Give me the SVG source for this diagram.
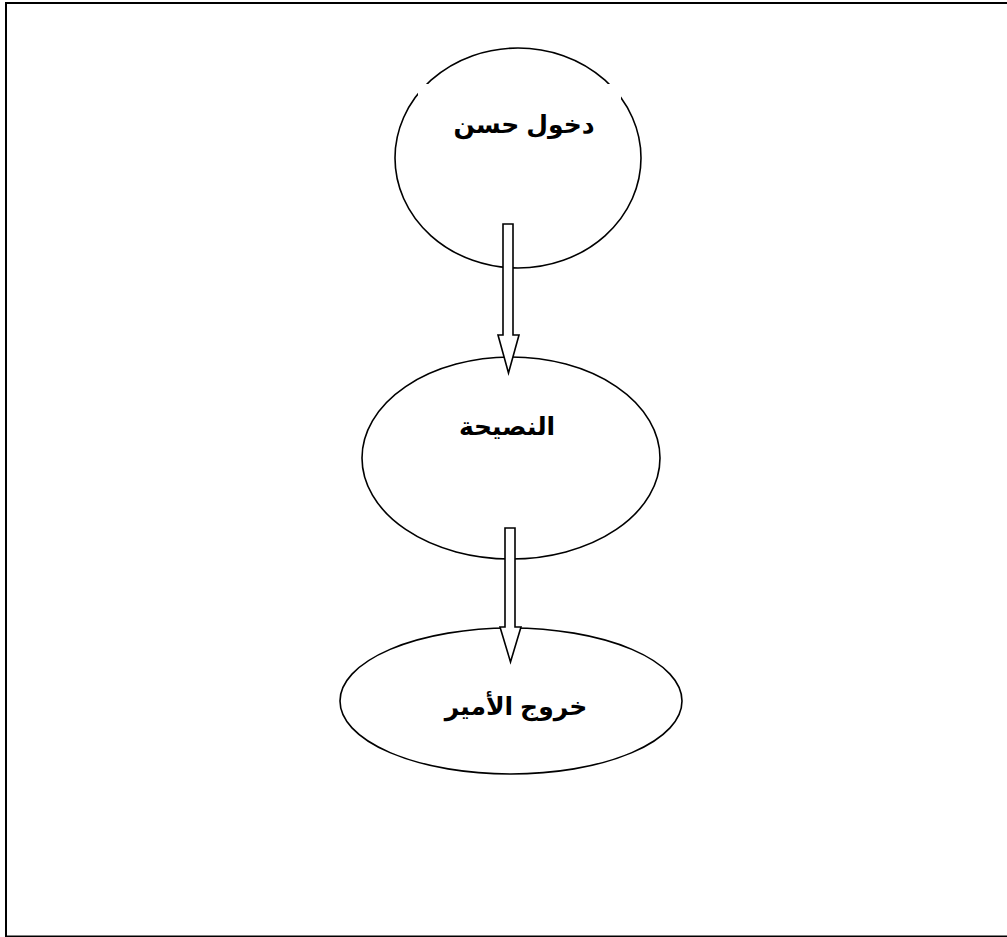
<svg xmlns="http://www.w3.org/2000/svg" width="1007" height="937" viewBox="0 0 1007 937">
<style>
.node{fill:#fff;stroke:#000;stroke-width:1.6}
.mask{fill:#fff;stroke:none}
.lbl{font-family:"Liberation Sans","DejaVu Sans","Noto Sans",sans-serif;font-weight:bold;font-size:25px;fill:#000;text-anchor:middle}
.arrow{fill:#fff;stroke:#000;stroke-width:1.6;stroke-linejoin:miter}
</style>
<rect x="0" y="0" width="1007" height="937" fill="#fff"/>
<rect x="6" y="3" width="1030" height="933.5" fill="none" stroke="#000" stroke-width="2"/>
<g id="node-entry">
<ellipse class="node" cx="518" cy="158" rx="123" ry="110"/>
<rect class="mask" x="418" y="84" width="203" height="30"/>
<text class="lbl" x="524" y="133">دخول حسن</text>
</g>
<g id="node-advice">
<ellipse class="node" cx="511" cy="458" rx="149" ry="101"/>
<rect class="mask" x="430" y="398" width="191" height="30"/>
<text class="lbl" x="507" y="435">النصيحة</text>
</g>
<g id="node-exit">
<ellipse class="node" cx="511" cy="701" rx="171" ry="73"/>
<text class="lbl" x="516" y="715">خروج الأمير</text>
</g>
<g id="connectors">
<polygon class="arrow" points="503,224 513,224 513,335 519,335 508.5,373 498,335 503,335"/>
<polygon class="arrow" points="505,528 515,528 515,627 521,627 510.5,662 500,627 505,627"/>
</g>
</svg>
